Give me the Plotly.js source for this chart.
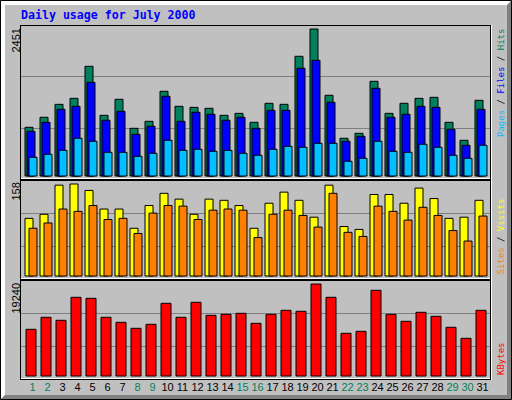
<!DOCTYPE html>
<html>
<head>
<meta charset="utf-8">
<script src="https://cdn.plot.ly/plotly-3.0.1.min.js"></script>
<style>
  html, body { margin: 0; padding: 0; background: #c0c0c0; }
  #chart { width: 512px; height: 400px; }
</style>
</head>
<body>
<div id="chart"></div>
<script>
// July 2000, one entry per day
var days = [1,2,3,4,5,6,7,8,9,10,11,12,13,14,15,16,17,18,19,20,21,22,23,24,25,26,27,28,29,30,31];
var weekend = [1,2,8,9,15,16,22,23,29,30];

var hits  = [812,979,1195,1295,1829,1012,1279,795,912,1412,1162,1145,1129,1012,1045,895,1212,1195,1996,2451,1346,629,712,1579,1045,1212,1295,1312,895,595,1262];
var files = [745,895,1112,1162,1562,929,1079,695,829,1329,912,1062,1029,929,979,795,1095,1095,1796,1929,1229,579,662,1462,979,1029,1162,1145,779,512,1112];
var pages = [312,362,428,629,579,395,395,328,378,595,428,445,412,428,378,345,445,495,479,545,545,245,295,579,412,395,529,479,345,295,512];

var visits = [99,106,156,158,147,115,115,82,121,142,132,106,132,130,121,82,125,144,130,101,156,85,80,140,140,125,151,133,99,101,130];
var sites  = [82,91,115,111,121,97,99,73,108,121,120,97,113,115,113,66,106,113,104,84,142,75,68,120,111,96,118,104,78,60,103];

var kbytes = [9766,12276,11649,16459,16249,12276,11230,9975,10812,15204,12276,15413,12694,12903,13112,11021,12903,13740,13531,19240,16459,8930,9348,17922,12903,11439,13322,12485,10185,7884,13740];

var maxHits = 2451, maxVisits = 158, maxKB = 19240;

// pixel helpers (page is 512 x 400, no margins)
var W = 512, H = 400;
function px(x) { return x / W; }
function py(y) { return 1 - y / H; }

// y range so that value 0 sits at basePx and maxVal at maxPx
function yRange(top, bottom, basePx, maxPx, maxVal) {
  var k = maxVal / (basePx - maxPx);
  return [-(bottom - basePx) * k, (basePx - top) * k];
}

// bar offsets: px from the group's left edge, 15 px per day
function off(p) { return -0.5 + p / 15; }
var bw = 8 / 15;

function bar(y, axis, color, o, w) {
  return {
    x: days, y: y, type: 'bar', yaxis: axis,
    offset: off(o), width: w,
    marker: { color: color, line: { color: '#000', width: 1 } },
    hoverinfo: 'skip'
  };
}

var data = [
  bar(hits, 'y', '#00805c', 0, bw),
  bar(files, 'y', '#0000ff', 2, bw),
  bar(pages, 'y', '#00c0ff', 4, bw),
  bar(visits, 'y2', '#ffff00', 0, bw),
  bar(sites, 'y2', '#ff8000', 4, bw),
  bar(kbytes, 'y3', '#ff0000', 1, 10 / 15)
];

var panels = [[25, 179], [180, 279], [280, 379]];

var ticktext = days.map(function (d) {
  var c = weekend.indexOf(d) >= 0 ? '#00805c' : '#000000';
  return '<span style="color:' + c + '">' + d + '</span>';
});

var hidden = { showgrid: false, zeroline: false, showticklabels: false, showline: false, ticks: '' };

var layout = {
  width: W, height: H,
  margin: { l: 0, r: 0, t: 0, b: 0 },
  paper_bgcolor: '#c0c0c0',
  plot_bgcolor: 'rgba(0,0,0,0)',
  barmode: 'overlay',
  showlegend: false,
  xaxis: {
    domain: [px(20), px(491)],
    range: [1 / 6, 1 / 6 + 471 / 15],
    anchor: 'y3',
    tickvals: days, ticktext: ticktext,
    showgrid: false, zeroline: false, showline: false, ticks: '',
    tickfont: { family: 'Liberation Sans', size: 11, color: '#000' }
  },
  yaxis: Object.assign({ domain: [py(179), py(25)], range: yRange(25, 179, 176, 29, maxHits) }, hidden),
  yaxis2: Object.assign({ domain: [py(279), py(180)], range: yRange(180, 279, 276, 184, maxVisits) }, hidden),
  yaxis3: Object.assign({ domain: [py(379), py(280)], range: yRange(280, 379, 376, 284, maxKB) }, hidden),
  shapes: [],
  annotations: []
};

// outer bevel
function path(pts) {
  return 'M' + pts.map(function (p) { return px(p[0]) + ',' + py(p[1]); }).join(' L') + ' Z';
}
layout.shapes.push({ type: 'path', xref: 'paper', yref: 'paper', layer: 'below',
  path: path([[1, 1], [511, 1], [507, 5], [5, 5], [5, 395], [1, 399]]),
  fillcolor: '#ffffff', line: { width: 0 } });
layout.shapes.push({ type: 'path', xref: 'paper', yref: 'paper', layer: 'below',
  path: path([[511, 1], [511, 399], [1, 399], [5, 395], [507, 395], [507, 5]]),
  fillcolor: '#808080', line: { width: 0 } });
layout.shapes.push({ type: 'rect', xref: 'paper', yref: 'paper', layer: 'above',
  x0: px(0.5), x1: px(511.5), y0: py(0.5), y1: py(399.5),
  line: { color: '#000', width: 1 } });

function line(x0, y0, x1, y1, color, layer) {
  layout.shapes.push({ type: 'line', xref: 'paper', yref: 'paper', layer: layer || 'above',
    x0: px(x0), y0: py(y0), x1: px(x1), y1: py(y1), line: { color: color, width: 1 } });
}

// panel frames and grid lines
panels.forEach(function (p) {
  var t = p[0], b = p[1];
  var g1 = t + (b - t) / 3, g2 = t + 2 * (b - t) / 3;
  line(20, Math.round(g1) + 0.5, 490, Math.round(g1) + 0.5, '#808080', 'below');
  line(20, Math.round(g2) + 0.5, 490, Math.round(g2) + 0.5, '#808080', 'below');
  line(20, t + 0.5, 490.5, t + 0.5, '#000');
  line(20.5, t, 20.5, b + 0.5, '#000');
  line(20, b + 0.5, 491, b + 0.5, '#000');
  line(490.5, t, 490.5, b + 0.5, '#000');
  line(21, b - 0.5, 490, b - 0.5, '#ffffff');
  line(491.5, t, 491.5, b + 1, '#ffffff');
});

// title
layout.annotations.push({ xref: 'paper', yref: 'paper', x: px(19), y: py(15),
  xanchor: 'left', yanchor: 'middle', showarrow: false,
  text: '<b>Daily usage for July 2000</b>',
  font: { family: 'DejaVu Sans Mono', size: 11.6, color: '#0000ff' } });

// max values on the left
function leftLabel(txt, top) {
  layout.annotations.push({ xref: 'paper', yref: 'paper', x: px(15.5), y: py(top),
    xanchor: 'center', yanchor: 'top', showarrow: false, textangle: -90,
    text: txt, font: { family: 'Liberation Sans', size: 11, color: '#000' } });
}
leftLabel(String(maxHits), 27);
leftLabel(String(maxVisits), 181);
leftLabel(String(maxKB), 280.5);

// series names on the right
function rightLabel(txt, y, anchor) {
  layout.annotations.push({ xref: 'paper', yref: 'paper', x: px(500.5), y: py(y),
    xanchor: 'center', yanchor: anchor, showarrow: false, textangle: -90,
    text: txt, font: { family: 'DejaVu Sans Mono', size: 9, color: '#000' } });
}
rightLabel('<span style="color:#00c0ff">Pages</span> / <span style="color:#0000ff">Files</span> / <span style="color:#00805c">Hits</span>', 27.5, 'top');
rightLabel('<span style="color:#ff8000">Sites</span> / <span style="color:#ffff00">Visits</span>', 277, 'bottom');
rightLabel('<span style="color:#ff0000">KBytes</span>', 377, 'bottom');

Plotly.newPlot('chart', data, layout, { staticPlot: true });
</script>
</body>
</html>
